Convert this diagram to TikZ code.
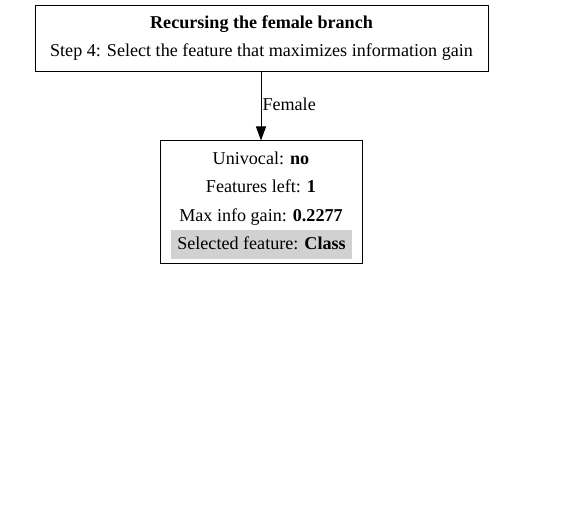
\documentclass[tikz,border=0pt]{standalone}
\usepackage{fontspec}
\setmainfont{Liberation Serif}
\usetikzlibrary{arrows.meta}

\begin{document}
\begin{tikzpicture}[x=1pt, y=-1pt, font=\fontsize{18.1}{22}\selectfont,
		box/.style={draw, line width=1pt, rectangle, inner sep=0pt},
		txt/.style={inner sep=0pt, anchor=base}]
	\useasboundingbox (0,0) rectangle (563,505);
	\node[box, minimum width=453pt, minimum height=66pt] (step) at (261.5,39) {};
	\node[txt] (steptitle) at (261.5,28.3) {\textbf{Recursing the female branch}};
	\node[txt] (stepdesc) at (261.5,56.5) {Step 4: Select the feature that maximizes information gain};
	\node[box, minimum width=202pt, minimum height=123pt] (female) at (261,202.5) {};
	\draw[draw=none, fill=black!18] (171,230) rectangle (352,259);
	\node[txt] (univocal) at (261,165) {Univocal: \textbf{no}};
	\node[txt] (left) at (261,193) {Features left: \textbf{1}};
	\node[txt] (gain) at (261,221.5) {Max info gain: \textbf{0.2277}};
	\node[txt] (selected) at (261.5,250) {Selected feature: \textbf{Class}};
	\draw[line width=1pt, -{Triangle[length=14pt, width=10pt]}] (step.south -| female.north) -- (female.north)
		node[txt, pos=.5, anchor=base west, xshift=1pt, yshift=-4pt] (branch) {Female};
\end{tikzpicture}
\end{document}
